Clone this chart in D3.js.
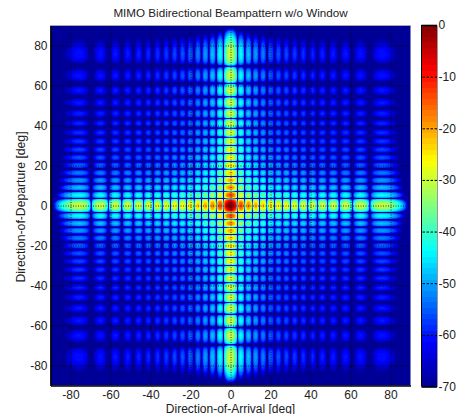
<!DOCTYPE html>
<html>
<head>
<meta charset="utf-8">
<script src="https://d3js.org/d3.v7.min.js"></script>
<style>
  html, body { margin: 0; padding: 0; background: #fff; }
  text { font-family: "Liberation Sans", Arial, sans-serif; fill: #222; }
</style>
</head>
<body>
<div id="chart"></div>
<script>
let height = 414,
    width = 459,
    margin = ({ top: 25.5, right: 48.5, bottom: 28.5, left: 50.5 });

// dB level estimated along the bright row through 0 deg, one value per half degree from 0 to 90
const levels0to90 = [
  0, -0.3, -1.1, -2.7, -5, -8.6, -14.6, -48, -19.8, -14.8,
  -13.3, -13.7, -15.7, -20.1, -50, -29, -21.5, -18.6, -17.9, -19,
  -22, -30, -52, -25, -21.6, -20.7, -21.1, -23.6, -30, -60,
  -29.5, -24.6, -22.9, -22.8, -24.3, -28, -52, -40, -28.5, -25.3,
  -24.4, -24.8, -27, -32.5, -60, -34, -28.6, -26.2, -25.6, -26.5,
  -29, -35.2, -60, -33.5, -29, -27, -26.6, -27.5, -30, -35.5,
  -60, -36, -30.5, -28.4, -27.5, -28, -29.8, -33.5, -56, -44,
  -33.7, -30.2, -28.6, -28.2, -29, -31, -35, -58, -44, -34.3,
  -30.9, -29.3, -28.8, -29.3, -30.8, -34, -40.3, -60, -38, -33,
  -30.7, -29.5, -29.2, -29.7, -31.1, -34, -39, -60, -42.4, -35.7,
  -32.6, -30.6, -29.8, -29.6, -30.1, -31.3, -33.6, -37, -48, -60,
  -39.4, -35, -32.4, -30.9, -30.1, -29.8, -30, -30.8, -32, -34,
  -37, -42.6, -60, -44.4, -38, -35, -33, -31.5, -30.6, -30.2,
  -30, -30.2, -30.7, -31.3, -32.5, -34, -36, -39, -44, -60,
  -52, -42, -38.3, -35.6, -34, -32.8, -31.9, -31.3, -30.7, -30.4,
  -30.2, -30.1, -30.1, -30.3, -30.5, -30.7, -31, -31.6, -32.1, -32.6,
  -33.3, -34, -34.8, -35.8, -36.7, -37.6, -38.7, -40.3, -41.5, -42.9,
  -44.5, -46.2, -48, -50.6, -53, -56.6, -60, -66, -70, -70,
  -70
];
const angleTicks = [-80, -60, -40, -20, 0, 20, 40, 60, 80];
const barTicks = [0, -10, -20, -30, -40, -50, -60, -70];
const jetStops = [-70, -61.25, -43.75, -26.25, -8.75, 0];
const jetColors = ["#00008f", "#0000ff", "#00ffff", "#ffff00", "#ff0000", "#800000"];

const title = "MIMO Bidirectional Beampattern w/o Window";
const xTitle = "Direction-of-Arrival [deg]";
const yTitle = "Direction-of-Departure [deg]";

// the pattern is symmetric, so the negative side mirrors the positive one
const angles = d3.range(-180, 181).map(i => i / 2);
const levelAt = a => levels0to90[Math.abs(a) * 2];

const svg = d3.select("#chart")
  .append("svg")
  .attr("width", width)
  .attr("height", height)
  .attr("viewBox", [0, 0, width, height])
  .style("display", "block");

let x = d3.scaleLinear()
  .domain([-90, 90])
  .range([margin.left, width - margin.right]);

let y = d3.scaleLinear()
  .domain([-90, 90])
  .range([height - margin.bottom, margin.top]);

let jet = d3.scaleLinear().domain(jetStops).range(jetColors).clamp(true);

// matlab jet has 64 flat steps
let steps = d3.range(64).map(i => jet(-70 + 70 * (i + 0.5) / 64));
let color = d3.scaleQuantize().domain([-70, 0]).range(steps);

const defs = svg.append("defs");
defs.append("clipPath").attr("id", "plot")
  .append("rect")
  .attr("x", x(-90))
  .attr("y", y(90))
  .attr("width", x(90) - x(-90))
  .attr("height", y(-90) - y(90));
defs.append("filter").attr("id", "soft")
  .attr("color-interpolation-filters", "sRGB")
  .append("feGaussianBlur").attr("stdDeviation", 0.45);

const cellW = x(0.5) - x(0),
      cellH = y(0) - y(0.5);

// a cell is the arrival level plus the departure level, both in dB
const cells = angles.flatMap(dep => angles.map(arr => ({ arr, dep, db: levelAt(arr) + levelAt(dep) })));

svg.append("g")
  .attr("clip-path", "url(#plot)")
  .append("g")
  .attr("filter", "url(#soft)")
  .attr("shape-rendering", "crispEdges")
  .selectAll("rect")
  .data(cells)
  .join("rect")
  .attr("x", d => x(d.arr) - cellW / 2)
  .attr("y", d => y(d.dep) - cellH / 2)
  .attr("width", cellW)
  .attr("height", cellH)
  .attr("fill", d => color(Math.max(d.db, -70)));

// tickSize draws the dotted grid across the plot
const xAxis = svg.append("g")
  .attr("transform", `translate(0,${height - margin.bottom})`)
  .call(d3.axisBottom(x).tickValues(angleTicks).tickFormat(d => d).tickSize(-(y(-90) - y(90))).tickSizeOuter(0));

const yAxis = svg.append("g")
  .attr("transform", `translate(${margin.left},0)`)
  .call(d3.axisLeft(y).tickValues(angleTicks).tickFormat(d => d).tickSize(-(x(90) - x(-90))).tickSizeOuter(0));

[xAxis, yAxis].forEach(g => {
  g.selectAll(".tick line").attr("stroke", "#000").attr("stroke-dasharray", "1,1.5").attr("stroke-opacity", 0.75);
  g.selectAll(".tick text").attr("font-size", 12).attr("font-family", null);
  g.select(".domain").attr("stroke", "#000").attr("stroke-width", 1.6);
});
xAxis.selectAll(".tick text").attr("y", 5);
yAxis.selectAll(".tick text").attr("x", -3);

svg.append("line")
  .attr("x1", x(-90)).attr("x2", x(90))
  .attr("y1", y(90)).attr("y2", y(90))
  .attr("stroke", "#aaa");

svg.append("text")
  .attr("x", x(0))
  .attr("y", 17)
  .attr("text-anchor", "middle")
  .attr("font-size", 11.65)
  .text(title);

svg.append("text")
  .attr("x", x(0))
  .attr("y", 412.5)
  .attr("text-anchor", "middle")
  .attr("font-size", 12)
  .text(xTitle);

svg.append("text")
  .attr("transform", `translate(25,207) rotate(-90)`)
  .attr("text-anchor", "middle")
  .attr("font-size", 12.2)
  .text(yTitle);

// colour bar
let barY = d3.scaleLinear().domain([-70, 0]).range([386.5, 25]);
const barLeft = 421.5, barWidth = 15.5;

svg.append("g")
  .attr("shape-rendering", "crispEdges")
  .selectAll("rect")
  .data(steps)
  .join("rect")
  .attr("x", barLeft)
  .attr("y", (d, i) => barY(-70 + 70 * (i + 1) / 64))
  .attr("width", barWidth)
  .attr("height", (barY(-70) - barY(0)) / 64 + 0.5)
  .attr("fill", d => d);

const barAxis = svg.append("g")
  .attr("transform", `translate(${barLeft + barWidth},0)`)
  .call(d3.axisRight(barY).tickValues(barTicks).tickFormat(d => d).tickSize(-barWidth).tickSizeOuter(0));

barAxis.select(".domain").attr("stroke", "#999").attr("stroke-width", 1);
barAxis.selectAll(".tick line")
  .attr("stroke", "#000")
  .attr("stroke-width", d => (d === 0 || d === -70) ? 1.6 : 1)
  .attr("stroke-dasharray", d => (d === 0 || d === -70) ? null : "2.5,1.5");
barAxis.selectAll(".tick text").attr("font-size", 12).attr("font-family", null).attr("x", 1.5);

svg.append("line")
  .attr("x1", barLeft).attr("x2", barLeft)
  .attr("y1", barY(0)).attr("y2", barY(-70))
  .attr("stroke", "#000");
</script>
</body>
</html>
